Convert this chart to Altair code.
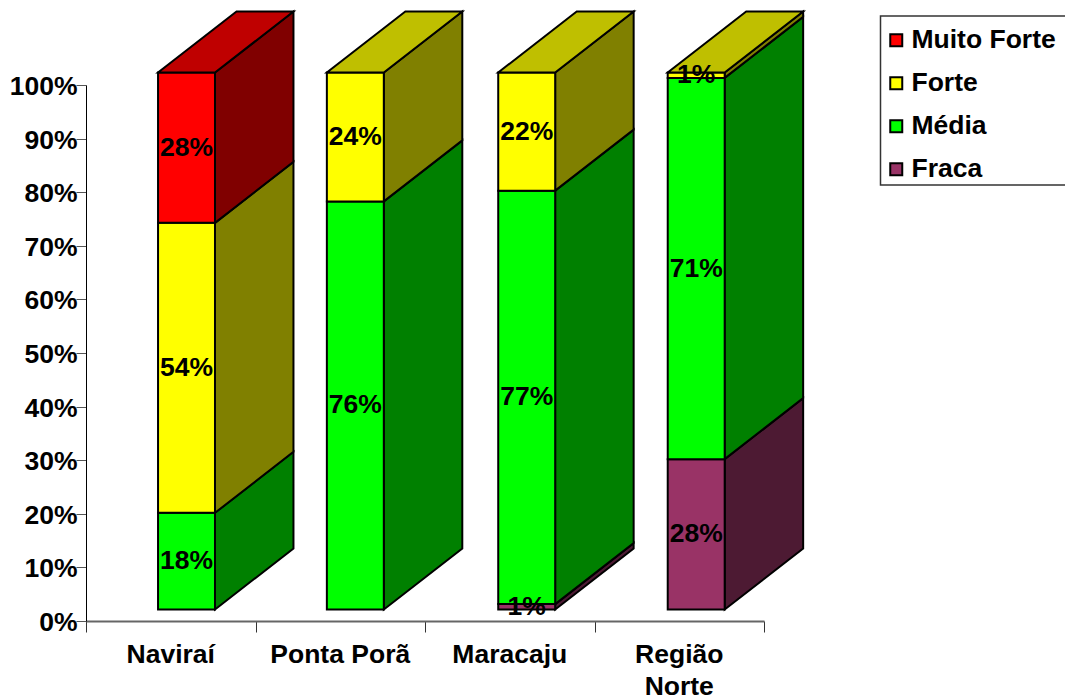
import altair as alt
import pandas as pd

# Share of each intensity class per locality, in percent
categories = ["Naviraí", "Ponta Porã", "Maracaju", "Região\nNorte"]
fraca = [0, 0, 1, 28]
media = [18, 76, 77, 71]
forte = [54, 24, 22, 1]
muito_forte = [28, 0, 0, 0]

series_names = ["Fraca", "Média", "Forte", "Muito Forte"]
series_values = [fraca, media, forte, muito_forte]
legend_order = ["Muito Forte", "Forte", "Média", "Fraca"]

y_ticks = [0, 10, 20, 30, 40, 50, 60, 70, 80, 90, 100]
x_ticks = [0, 1, 2, 3, 4]

front_colors = {"Muito Forte": "#FF0000", "Forte": "#FFFF00", "Média": "#00FF00", "Fraca": "#993366"}
side_colors = {"Muito Forte": "#800000", "Forte": "#808000", "Média": "#008000", "Fraca": "#4D1A33"}
top_colors = {"Muito Forte": "#BF0000", "Forte": "#BFBF00", "Média": "#00BF00", "Fraca": "#732650"}

# Oblique projection of the columns, in axis units
BAR_CENTERS = [0.593, 1.589, 2.600, 3.600]
BAR_WIDTH = 0.336
DEPTH_X = 0.463
DEPTH_Y = 11.38
FRONT_LIFT = 2.15
FRONT_SCALE = 1.0018


def front_y(v):
    return FRONT_LIFT + v * FRONT_SCALE


front_rows, side_rows, top_rows, label_rows = [], [], [], []
for i, _ in enumerate(categories):
    left = BAR_CENTERS[i] - BAR_WIDTH / 2
    right = left + BAR_WIDTH
    base = 0
    last = None
    for name, values in zip(series_names, series_values):
        v = values[i]
        if v == 0:
            continue
        lo, hi = front_y(base), front_y(base + v)
        front_rows.append(dict(x=left, x2=right, y=lo, y2=hi, serie=name))
        label_rows.append(dict(x=(left + right) / 2, y=(lo + hi) / 2, text=f"{v}%"))
        face = f"{i}-{name}"
        side_rows.append(dict(face=face, x=right, y=lo, y2=hi, fill=side_colors[name]))
        side_rows.append(dict(face=face, x=right + DEPTH_X, y=lo + DEPTH_Y, y2=hi + DEPTH_Y, fill=side_colors[name]))
        base += v
        last = (name, hi)
    name, hi = last
    top_rows.append(dict(face=i, y=hi, x=left, x2=right, fill=top_colors[name]))
    top_rows.append(dict(face=i, y=hi + DEPTH_Y, x=left + DEPTH_X, x2=right + DEPTH_X, fill=top_colors[name]))

front = pd.DataFrame(front_rows)
side = pd.DataFrame(side_rows)
top = pd.DataFrame(top_rows)
labels = pd.DataFrame(label_rows)
cat_labels = pd.DataFrame({"x": [i + 0.5 for i in range(len(categories))], "text": categories})

FONT = "Liberation Sans"
FONT_SIZE = 26.5
x_scale = alt.Scale(domain=[0, 4], nice=False, zero=False)
y_scale = alt.Scale(domain=[0, 100], nice=False, zero=False)
EDGE = dict(stroke="black", strokeWidth=2, strokeJoin="miter")


def x_enc():
    return alt.X("x:Q", scale=x_scale, title=None)


def y_enc():
    return alt.Y("y:Q", scale=y_scale, title=None)


axes = alt.Chart(pd.DataFrame({"x": [0], "y": [0]})).mark_point(opacity=0).encode(
    x=alt.X("x:Q", scale=x_scale, title=None, axis=alt.Axis(
        values=x_ticks, labels=False, grid=False, tickSize=11,
        domainColor="#666666", domainWidth=2, tickColor="#333333", tickWidth=1)),
    y=alt.Y("y:Q", scale=y_scale, title=None, axis=alt.Axis(
        values=y_ticks, grid=False, tickSize=10, labelPadding=-1, labelOffset=1.5,
        labelExpr="datum.value + '%'", labelFont=FONT, labelFontSize=FONT_SIZE, labelFontWeight="bold",
        labelColor="black", labelBaseline="middle", domainColor="black", domainWidth=1,
        tickColor="#555555", tickWidth=1)),
)

side_layer = alt.Chart(side).mark_area(orient="vertical", **EDGE).encode(
    x=x_enc(), y=y_enc(), y2="y2:Q", detail="face:N",
    fill=alt.Fill("fill:N", scale=None),
)

top_layer = alt.Chart(top).mark_area(orient="horizontal", **EDGE).encode(
    y=y_enc(), x=x_enc(), x2="x2:Q", detail="face:N",
    fill=alt.Fill("fill:N", scale=None),
)

front_layer = alt.Chart(front).mark_rect(**EDGE).encode(
    x=x_enc(), x2="x2:Q", y=y_enc(), y2="y2:Q",
    color=alt.Color("serie:N",
        scale=alt.Scale(domain=legend_order, range=[front_colors[n] for n in legend_order]),
        legend=alt.Legend(
            title=None, orient="none", legendX=797, legendY=-58, padding=0,
            symbolType="square", symbolSize=144, symbolStrokeColor="black", symbolStrokeWidth=2,
            labelFont=FONT, labelFontSize=FONT_SIZE, labelFontWeight="bold", labelColor="black",
            labelLimit=300, labelOffset=2, rowPadding=16, values=legend_order)),
)

# Outline around the key, running off the right edge of the page
legend_frame = alt.Chart(pd.DataFrame({"k": [0]})).mark_rect(
    fill=None, stroke="#333333", strokeWidth=1.5
).encode(
    x=alt.value(794.5), x2=alt.value(990), y=alt.value(-69), y2=alt.value(100),
)

value_labels = alt.Chart(labels).mark_text(
    font=FONT, fontSize=FONT_SIZE, fontWeight="bold", color="black", baseline="middle", align="center"
).encode(x=x_enc(), y=y_enc(), text="text:N")

category_labels = alt.Chart(cat_labels).mark_text(
    font=FONT, fontSize=FONT_SIZE, fontWeight="bold", color="black", baseline="alphabetic", align="center",
    lineBreak="\n", lineHeight=32,
).encode(x=x_enc(), y=alt.value(578), text="text:N")

chart = alt.layer(
    axes, side_layer, front_layer, top_layer, value_labels, category_labels, legend_frame
).properties(
    width=678, height=536,
    padding={"left": 86, "top": 85, "right": 301, "bottom": 79},
    autosize=alt.AutoSizeParams(type="none"),
    background="white",
).configure_view(stroke=None)

chart.save("out.html", embed_options={"renderer": "svg", "actions": False})
